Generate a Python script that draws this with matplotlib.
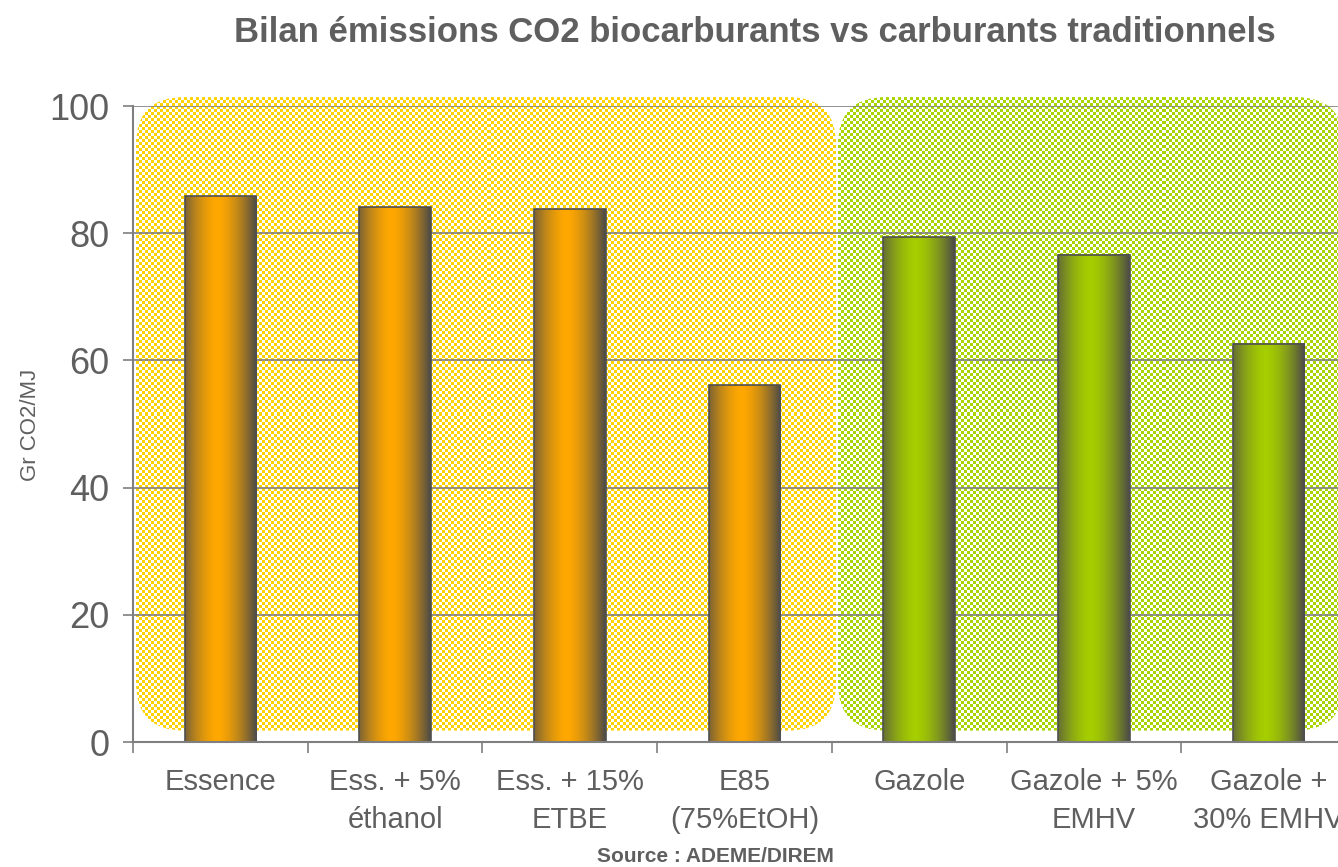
import numpy as np
import matplotlib.pyplot as plt
from matplotlib.patches import FancyBboxPatch
from matplotlib.colors import to_rgb

plt.rcParams['font.family'] = ['Liberation Sans', 'DejaVu Sans']

# Donnees
categories = ["Essence", "Ess. + 5%\néthanol", "Ess. + 15%\nETBE", "E85\n(75%EtOH)",
              "Gazole", "Gazole + 5%\nEMHV", "Gazole +\n30% EMHV"]
valeurs = [85.8, 84.1, 83.8, 56.1, 79.4, 76.6, 62.6]
familles = ["essence", "essence", "essence", "essence", "gazole", "gazole", "gazole"]

couleurs_barres = {"essence": "#FFA800", "gazole": "#A6CE00"}
couleurs_fond = {"essence": "#FFD200", "gazole": "#A8D400"}
gris_texte = "#5f5f5f"

fig = plt.figure(figsize=(13.38, 8.67), dpi=100)
ax = fig.add_axes([133 / 1338, 1 - 742 / 867, 1223 / 1338, 636 / 867])

x = np.arange(len(categories))
ax.set_xlim(-0.5, len(categories) - 0.5)
ax.set_ylim(0, 100)

# pixels par unite de donnees (pour les coins arrondis et le motif)
bb = ax.get_window_extent()
px_x = bb.width / len(categories)
px_y = bb.height / 100


def fond_motif(x0, x1, y0, y1, couleur):
    # rectangle arrondi rempli d'un damier
    r = 48 / px_x
    patch = FancyBboxPatch((x0, y0), x1 - x0, y1 - y0,
                           boxstyle="round,pad=0,rounding_size=%f" % r,
                           mutation_aspect=px_x / px_y,
                           facecolor="none", edgecolor="none",
                           transform=ax.transData, clip_on=False)
    ax.add_patch(patch)
    nx = int(round((x1 - x0) * px_x))
    ny = int(round((y1 - y0) * px_y))
    ii, jj = np.meshgrid(np.arange(nx), np.arange(ny))
    damier = ((ii // 3) + (jj // 3)) % 2 == 0
    img = np.ones((ny, nx, 4))
    img[damier, :3] = to_rgb(couleur)
    im = ax.imshow(img, extent=(x0, x1, y0, y1), aspect="auto",
                   interpolation="nearest", zorder=0.5, origin="lower")
    im.set_clip_box(fig.bbox)
    im.set_clip_path(patch)


fond_motif(-0.483, 3.524, 1.8, 101.4, couleurs_fond["essence"])
fond_motif(3.535, 6.43, 1.8, 101.4, couleurs_fond["gazole"])

# grille
for v in [20, 40, 60, 80, 100]:
    ax.axhline(v, color="#7f7f7f", lw=1.2, zorder=1)

barres = ax.bar(x, valeurs, width=0.41, color="none", edgecolor="#505050",
                linewidth=1.2, zorder=3)

# degrade horizontal des barres
t = np.linspace(0, 1, 80)
profil = np.clip(1 - np.abs((t - 0.45) / 0.55) ** 1.6, 0, 1)
for b, fam in zip(barres, familles):
    fonce = np.array(to_rgb("#4C4A47"))
    clair = np.array(to_rgb(couleurs_barres[fam]))
    grad = fonce[None, :] + (clair - fonce)[None, :] * profil[:, None]
    ax.imshow(grad[None, :, :], extent=(b.get_x(), b.get_x() + b.get_width(), 0, b.get_height()),
              aspect="auto", interpolation="bilinear", zorder=2)
ax.set_xlim(-0.5, len(categories) - 0.5)
ax.set_ylim(0, 100)

# axes
for s in ["top", "right"]:
    ax.spines[s].set_visible(False)
for s in ["left", "bottom"]:
    ax.spines[s].set_color("#7f7f7f")
    ax.spines[s].set_linewidth(1.5)
    ax.spines[s].set_zorder(4)

ax.set_yticks([0, 20, 40, 60, 80, 100])
ax.tick_params(axis="y", length=7, width=1.2, color="#7f7f7f", labelsize=26,
               labelcolor=gris_texte, pad=10)
ax.set_xticks(x)
ax.set_xticklabels(categories, linespacing=1.45)
ax.set_xticks(np.arange(-0.5, len(categories), 1), minor=True)
ax.tick_params(axis="x", which="major", length=0, labelsize=21, labelcolor=gris_texte, pad=19)
ax.tick_params(axis="x", which="minor", length=8, width=1.2, color="#7f7f7f", direction="out")

fig.text(30 / 1338, 1 - 425 / 867, "Gr CO2/MJ", rotation=90, ha="center", va="center",
         fontsize=16, color=gris_texte)
fig.text(755 / 1338, 1 - 32 / 867, "Bilan émissions CO2 biocarburants vs carburants traditionnels",
         ha="center", va="center", fontsize=25, fontweight="bold", color=gris_texte)
fig.text(715 / 1338, 1 - 856 / 867, "Source : ADEME/DIREM", ha="center", va="center",
         fontsize=15, fontweight="bold", color=gris_texte)

fig.savefig("out.png", dpi=100)
